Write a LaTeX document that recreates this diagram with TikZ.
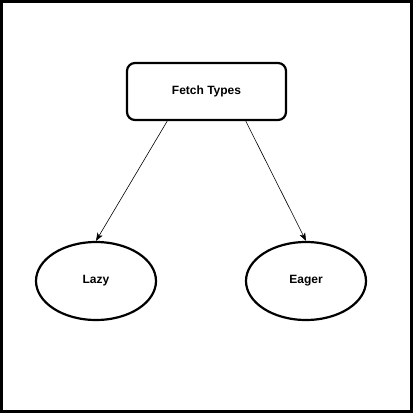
\documentclass[tikz,border=0pt]{standalone}
\usepackage{fontspec}
\setmainfont{Liberation Sans}
\usetikzlibrary{shapes.geometric,arrows.meta}
\tikzstyle{typebox}=[draw,line width=2.2pt,rounded corners=8pt,minimum width=159pt,minimum height=57pt,inner sep=0pt,font=\fontsize{12}{14}\selectfont\bfseries]
\tikzstyle{fetch}=[draw,ellipse,line width=2.2pt,minimum width=120pt,minimum height=78pt,inner sep=0pt,font=\fontsize{12}{14}\selectfont\bfseries]
\tikzstyle{link}=[-{Stealth[length=8pt,width=6pt,inset=2pt]},line width=0.6pt]

\begin{document}
\begin{tikzpicture}[x=1pt,y=-1pt]
\useasboundingbox (0,0) rectangle (413,413);
\draw[line width=3pt] (1.5,1.5) rectangle (411.5,411.5);
\node[typebox] at (206.5, 91.5) (ft) {Fetch Types};
\node[fetch] at (96, 281) (lazy) {Lazy};
\node[fetch] at (306, 281) (eager) {Eager};
\draw[link] (ft.217) -- (lazy.north);
\draw[link] (ft.323) -- (eager.north);
\end{tikzpicture}
\end{document}
